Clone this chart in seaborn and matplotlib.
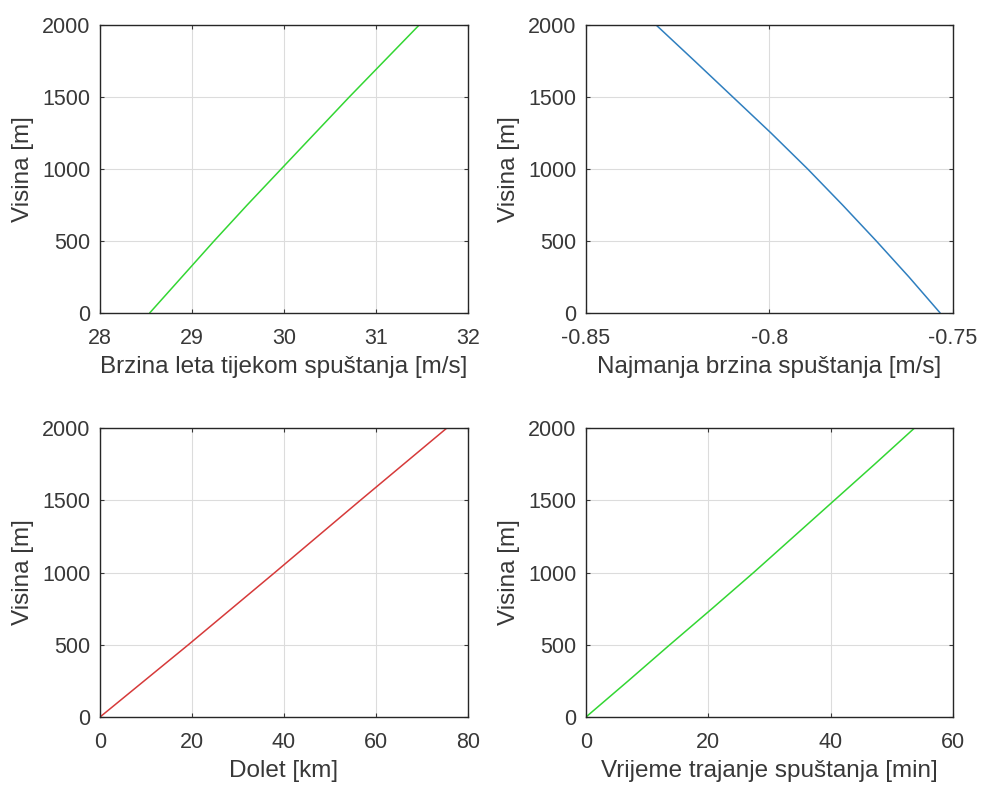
import numpy as np
import pandas as pd
import matplotlib
matplotlib.use('Agg')
import matplotlib.pyplot as plt
import seaborn as sns

sns.set_style("whitegrid")
plt.rcParams['font.family'] = ['Liberation Sans', 'DejaVu Sans']
plt.rcParams['axes.unicode_minus'] = False

# Visina (zajednicka y os)
visina = [0, 250, 500, 750, 1000, 1250, 1500, 1750, 2000]

# Brzina leta tijekom spustanja [m/s]
brzina_leta = [28.54, 28.89, 29.24, 29.60, 29.97, 30.34, 30.71, 31.09, 31.47]
# Najmanja brzina spustanja [m/s]
brzina_spustanja = [-0.7535, -0.7620, -0.7709, -0.7801, -0.7896, -0.7996, -0.8100, -0.8204, -0.8309]
# Dolet [km]
dolet = [0, 9.6, 19.2, 28.6, 38.0, 47.3, 56.6, 66.0, 75.4]
# Vrijeme trajanja spustanja [min]
vrijeme = [0, 6.9, 13.7, 20.6, 27.4, 34.0, 40.6, 47.2, 53.7]

df = pd.DataFrame({'visina': visina, 'brzina_leta': brzina_leta,
                   'brzina_spustanja': brzina_spustanja, 'dolet': dolet,
                   'vrijeme': vrijeme})

fig = plt.figure(figsize=(9.83, 7.87), dpi=100)
polozaji = [[0.1017, 0.6023, 0.3744, 0.366],
            [0.5961, 0.6023, 0.3734, 0.366],
            [0.1017, 0.0889, 0.3744, 0.3672],
            [0.5961, 0.0889, 0.3734, 0.3672]]

grafovi = [
    ('brzina_leta', '#33d633', 'Brzina leta tijekom spuštanja [m/s]', (28, 32), [28, 29, 30, 31, 32], ['28', '29', '30', '31', '32']),
    ('brzina_spustanja', '#2f7fbf', 'Najmanja brzina spuštanja [m/s]', (-0.85, -0.75), [-0.85, -0.8, -0.75], ['-0.85', '-0.8', '-0.75']),
    ('dolet', '#d63a3a', 'Dolet [km]', (0, 80), [0, 20, 40, 60, 80], ['0', '20', '40', '60', '80']),
    ('vrijeme', '#33d633', 'Vrijeme trajanje spuštanja [min]', (0, 60), [0, 20, 40, 60], ['0', '20', '40', '60']),
]

tamno = '#383838'
for poz, (kol, boja, xlab, xlim, xt, xtl) in zip(polozaji, grafovi):
    ax = fig.add_axes(poz)
    sns.lineplot(data=df, x=kol, y='visina', color=boja, linewidth=1.1, sort=False, ax=ax)
    ax.set_xlim(*xlim)
    ax.set_ylim(0, 2000)
    ax.set_xticks(xt)
    ax.set_xticklabels(xtl)
    ax.set_yticks([0, 500, 1000, 1500, 2000])
    ax.set_xlabel(xlab, fontsize=17.5, color=tamno, labelpad=5)
    ax.set_ylabel('Visina [m]', fontsize=17.5, color=tamno, labelpad=6)
    ax.grid(True, color='#dcdcdc', linewidth=0.8)
    ax.tick_params(axis='both', labelsize=15.5, colors=tamno, direction='in', length=3,
                   top=True, right=True, bottom=True, left=True)
    ax.tick_params(axis='x', pad=11)
    ax.tick_params(axis='y', pad=7)
    for s in ax.spines.values():
        s.set_visible(True)
        s.set_color('#262626')
        s.set_linewidth(1.0)

plt.savefig('out.png', dpi=100)
